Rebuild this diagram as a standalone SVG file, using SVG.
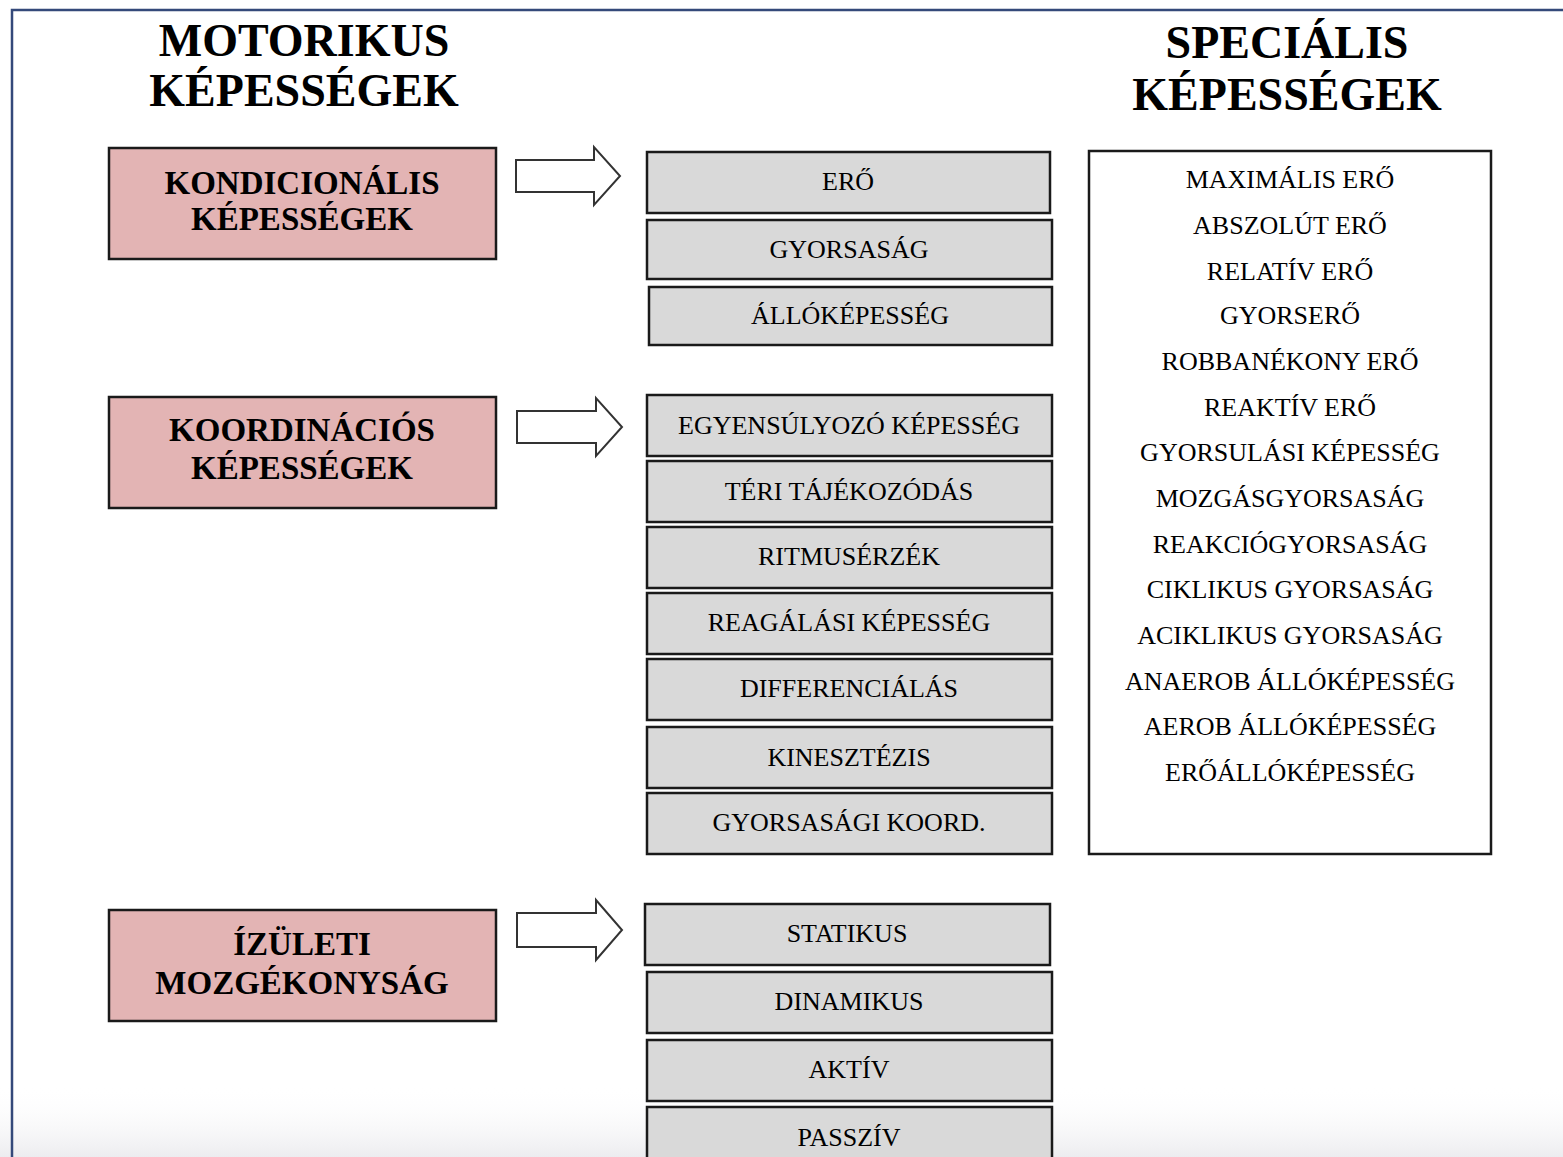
<svg xmlns="http://www.w3.org/2000/svg" width="1563" height="1157" viewBox="0 0 1563 1157">
<defs>
<linearGradient id="fade" x1="0" y1="0" x2="0" y2="1">
<stop offset="0" stop-color="#ffffff" stop-opacity="0"/>
<stop offset="1" stop-color="#ececef" stop-opacity="1"/>
</linearGradient>
<style>
.title{font-family:"Liberation Serif","Times New Roman",serif;font-weight:bold;font-size:46px;text-anchor:middle;fill:#000}
.cat rect{fill:#e3b4b4;stroke:#1a1a1a;stroke-width:2.5}
.cat text{font-family:"Liberation Serif","Times New Roman",serif;font-weight:bold;font-size:33px;text-anchor:middle;fill:#000}
.item rect{fill:#d9d9d9;stroke:#1a1a1a;stroke-width:2.5}
.item text,.spec text{font-family:"Liberation Serif","Times New Roman",serif;font-size:26px;text-anchor:middle;fill:#000}
.spec rect{fill:#fff;stroke:#1a1a1a;stroke-width:2.5}
.arrow{fill:#fff;stroke:#333;stroke-width:2}
</style>
</defs>
<rect width="1563" height="1157" fill="#fff"/>
<rect x="0" y="1085" width="1563" height="72" fill="url(#fade)"/>
<path d="M12 1157 V10 H1563" fill="none" stroke="#34497a" stroke-width="2.5"/>

<g id="title-motorikus">
<text class="title" x="304" y="56">MOTORIKUS</text>
<text class="title" x="304" y="106">KÉPESSÉGEK</text>
</g>
<g id="title-specialis">
<text class="title" x="1287" y="58">SPECIÁLIS</text>
<text class="title" x="1287" y="110">KÉPESSÉGEK</text>
</g>

<g id="cat-kondicionalis" class="cat">
<rect x="109" y="148" width="387" height="111"/>
<text x="302" y="194">KONDICIONÁLIS</text>
<text x="302" y="230">KÉPESSÉGEK</text>
</g>
<g id="cat-koordinacios" class="cat">
<rect x="109" y="397" width="387" height="111"/>
<text x="302" y="441">KOORDINÁCIÓS</text>
<text x="302" y="479">KÉPESSÉGEK</text>
</g>
<g id="cat-izuleti" class="cat">
<rect x="109" y="910" width="387" height="111"/>
<text x="302" y="955">ÍZÜLETI</text>
<text x="302" y="994">MOZGÉKONYSÁG</text>
</g>

<g id="connectors">
<polygon class="arrow" points="516,160 594,160 594,147 620,176 594,205 594,192 516,192"/>
<polygon class="arrow" points="517,411 596,411 596,398 622,427 596,456 596,443 517,443"/>
<polygon class="arrow" points="517,913 596,913 596,900 622,930 596,960 596,947 517,947"/>
</g>

<g id="item-ero" class="item"><rect x="647" y="152" width="403" height="61"/><text x="848" y="190">ERŐ</text></g>
<g id="item-gyorsasag" class="item"><rect x="647" y="220" width="405" height="59"/><text x="849" y="258">GYORSASÁG</text></g>
<g id="item-allokepesseg" class="item"><rect x="649" y="287" width="403" height="58"/><text x="850" y="324">ÁLLÓKÉPESSÉG</text></g>

<g id="item-egyensulyozo" class="item"><rect x="647" y="395" width="405" height="61"/><text x="849" y="434">EGYENSÚLYOZÓ KÉPESSÉG</text></g>
<g id="item-teri" class="item"><rect x="647" y="461" width="405" height="61"/><text x="849" y="500">TÉRI TÁJÉKOZÓDÁS</text></g>
<g id="item-ritmus" class="item"><rect x="647" y="527" width="405" height="61"/><text x="849" y="565">RITMUSÉRZÉK</text></g>
<g id="item-reagalasi" class="item"><rect x="647" y="593" width="405" height="61"/><text x="849" y="631">REAGÁLÁSI KÉPESSÉG</text></g>
<g id="item-differencialas" class="item"><rect x="647" y="659" width="405" height="61"/><text x="849" y="697">DIFFERENCIÁLÁS</text></g>
<g id="item-kinesztezis" class="item"><rect x="647" y="727" width="405" height="61"/><text x="849" y="766">KINESZTÉZIS</text></g>
<g id="item-gyorsasagi" class="item"><rect x="647" y="793" width="405" height="61"/><text x="849" y="831">GYORSASÁGI KOORD.</text></g>

<g id="item-statikus" class="item"><rect x="645" y="904" width="405" height="61"/><text x="847" y="942">STATIKUS</text></g>
<g id="item-dinamikus" class="item"><rect x="647" y="972" width="405" height="61"/><text x="849" y="1010">DINAMIKUS</text></g>
<g id="item-aktiv" class="item"><rect x="647" y="1040" width="405" height="61"/><text x="849" y="1078">AKTÍV</text></g>
<g id="item-passziv" class="item"><rect x="647" y="1107" width="405" height="60"/><text x="849" y="1146">PASSZÍV</text></g>

<g id="spec-list" class="spec">
<rect x="1089" y="151" width="402" height="703"/>
<text x="1290" y="188">MAXIMÁLIS ERŐ</text>
<text x="1290" y="234">ABSZOLÚT ERŐ</text>
<text x="1290" y="280">RELATÍV ERŐ</text>
<text x="1290" y="324">GYORSERŐ</text>
<text x="1290" y="370">ROBBANÉKONY ERŐ</text>
<text x="1290" y="416">REAKTÍV ERŐ</text>
<text x="1290" y="461">GYORSULÁSI KÉPESSÉG</text>
<text x="1290" y="507">MOZGÁSGYORSASÁG</text>
<text x="1290" y="553">REAKCIÓGYORSASÁG</text>
<text x="1290" y="598">CIKLIKUS GYORSASÁG</text>
<text x="1290" y="644">ACIKLIKUS GYORSASÁG</text>
<text x="1290" y="690">ANAEROB ÁLLÓKÉPESSÉG</text>
<text x="1290" y="735">AEROB ÁLLÓKÉPESSÉG</text>
<text x="1290" y="781">ERŐÁLLÓKÉPESSÉG</text>
</g>
</svg>
